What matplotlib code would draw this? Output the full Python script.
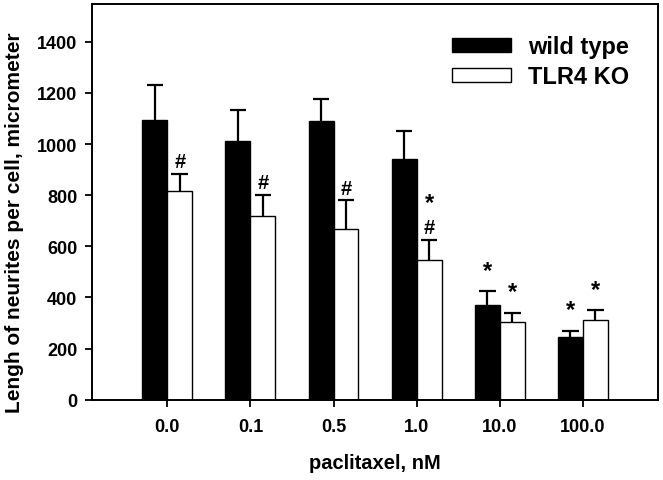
import numpy as np
import matplotlib
matplotlib.use("Agg")
import matplotlib.pyplot as plt

plt.rcParams["font.family"] = ["Liberation Sans", "DejaVu Sans"]
plt.rcParams["font.weight"] = "bold"

# ── data ──────────────────────────────────────────────────
doses = ["0.0", "0.1", "0.5", "1.0", "10.0", "100.0"]
wild_type = [1094, 1012, 1090, 943, 370, 246]
wild_type_err = [139, 123, 85, 108, 56, 24]
tlr4_ko = [816, 719, 668, 545, 305, 312]
tlr4_ko_err = [66, 82, 112, 80, 36, 38]

# significance marks: (group index, series, label, stacked level)
marks = [
    (0, "ko", "#", 0), (1, "ko", "#", 0), (2, "ko", "#", 0), (3, "ko", "#", 0),
    (3, "ko", "*", 1),
    (4, "wt", "*", 0), (4, "ko", "*", 0), (5, "wt", "*", 0), (5, "ko", "*", 0),
]

fig = plt.figure(figsize=(6.63, 4.81), dpi=100)
ax = fig.add_axes([0.1395, 0.167, 0.8525, 0.8226])

x = np.arange(1, len(doses) + 1)
w = 0.3
cap = 0.1

ax.bar(x - w / 2, wild_type, w, color="black", edgecolor="black", lw=1,
       label="wild type", zorder=2)
ax.bar(x + w / 2, tlr4_ko, w, color="white", edgecolor="black", lw=1,
       label="TLR4 KO", zorder=2)

# upper-only error bars
wt_top = np.array(wild_type) + np.array(wild_type_err)
ko_top = np.array(tlr4_ko) + np.array(tlr4_ko_err)
for xs, base, top in [(x - w / 2, wild_type, wt_top), (x + w / 2, tlr4_ko, ko_top)]:
    ax.vlines(xs, base, top, color="black", lw=1.6, zorder=3)
    ax.hlines(top, xs - cap, xs + cap, color="black", lw=1.6, zorder=3)

# ── significance symbols ──────────────────────────────────
for i, series, lab, level in marks:
    xx = x[i] - w / 2 if series == "wt" else x[i] + w / 2
    yy = wt_top[i] if series == "wt" else ko_top[i]
    if lab == "#":
        ax.text(xx, yy + 48, lab, ha="center", va="center",
                fontsize=14.5, fontweight="bold")
    else:
        ax.text(xx, yy + 36 + 66 * level, lab, ha="center", va="bottom",
                fontsize=17, fontweight="bold")

ax.set_xlim(0.1, 6.9)
ax.set_ylim(0, 1548)
ax.set_xticks(x)
ax.set_xticklabels(doses)
ax.set_yticks(np.arange(0, 1401, 200))
ax.tick_params(axis="both", direction="out", length=5, width=1.3,
               labelsize=13, pad=6)
ax.tick_params(axis="x", pad=8)
for lab in ax.get_xticklabels() + ax.get_yticklabels():
    lab.set_fontweight("bold")
for sp in ax.spines.values():
    sp.set_linewidth(1.4)

ax.set_xlabel("paclitaxel, nM", fontsize=14.5, fontweight="bold", labelpad=13)
ax.set_ylabel("Lengh of neurites per cell, micrometer", fontsize=15,
              fontweight="bold")
ax.yaxis.set_label_coords(-0.122, 0.45)

ax.legend(loc="upper right", bbox_to_anchor=(0.966, 0.945), borderaxespad=0,
          frameon=False, prop=dict(size=17, weight="bold"), handlelength=2.5,
          handleheight=0.5, handletextpad=0.7, labelspacing=0.3)

fig.savefig("out.png", dpi=100)
